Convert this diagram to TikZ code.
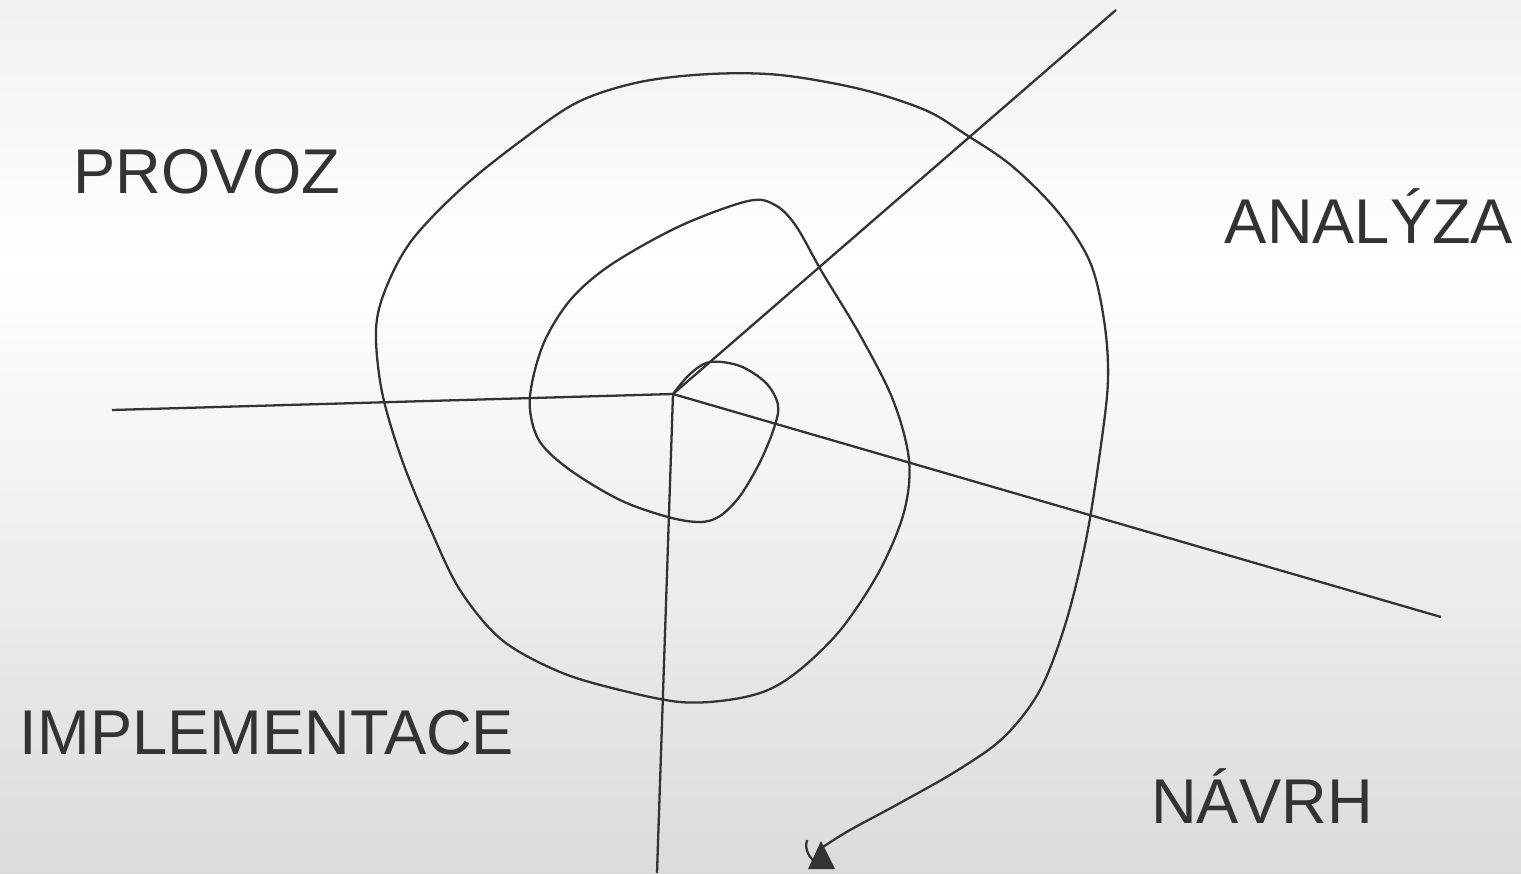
\documentclass[tikz,border=0pt]{standalone}
\usepackage{fontspec}
\setmainfont{Liberation Sans}
\definecolor{ink}{HTML}{333333}
\definecolor{bgtop}{HTML}{D8D8D8}
\definecolor{bgbot}{HTML}{C3C3C3}
\pgfdeclareverticalshading{bgshade}{100bp}{color(0bp)=(bgbot); color(25bp)=(bgbot!60!white); color(60bp)=(white); color(100bp)=(bgtop)}
\begin{document}
\begin{tikzpicture}[x=0.02cm,y=-0.02cm,
  lbl/.style={text=ink,font=\fontsize{36}{40}\selectfont,inner sep=0pt},
  ray/.style={draw=ink,line width=1.3pt},
  spiral/.style={draw=ink,line width=1.3pt,line join=round}]
\useasboundingbox (0,0) rectangle (1521,873);
\shade[shading=bgshade] (0,0) rectangle (1521,873);
% labels
\node[lbl] (provoz) at (207,172) {PROVOZ};
\node[lbl] (analyza) at (1369,216) {ANALÝZA};
\node[lbl] (impl) at (267,733) {IMPLEMENTACE};
\node[lbl] (navrh) at (1262,796) {NÁVRH};
% rays
\coordinate (c) at (673,394);
\coordinate (w) at (112,410);
\coordinate (ne) at (1116,10);
\coordinate (se) at (1441,617);
\coordinate (s) at (657,873);
\draw[ray] (c) -- (w);
\draw[ray] (c) -- (ne);
\draw[ray] (c) -- (se);
\draw[ray] (c) -- (s);
% spiral
\coordinate (tip) at (823,847);
\draw[spiral] plot[smooth,tension=0.55] coordinates {
 (673,394) (690,374) (710,362) (740,366) (766,383) (778,405) (774,428) (760,462) (740,496) (720,516) (700,522) (668,517)
 (620,500) (570,470) (540,442) (530,410) (533,378) (546,338) (572,298) (612,264) (680,226) (748,201) (775,205) (796,226)
 (822,272) (860,335) (893,400) (909,460) (904,512) (880,570) (842,628) (802,668) (768,690) (728,700) (680,702)
 (620,690) (560,672) (502,640) (460,590) (430,528) (402,460) (382,392) (376,330) (386,288) (412,240) (462,188)
 (522,140) (578,102) (640,82) (710,74) (780,75) (860,89) (925,110) (965,134) (1012,166) (1058,212) (1090,262)
 (1104,320) (1108,380) (1100,452) (1086,540) (1066,622) (1040,690) (1004,737) (958,770) (900,803) (850,830) (tip)};
\fill[ink] (821,841) -- (808,869) -- (835,869) -- cycle;
\draw[ink,line width=1.3pt] (807,840) .. controls (804,850) and (810,858) .. (815,862);
\end{tikzpicture}
\end{document}
